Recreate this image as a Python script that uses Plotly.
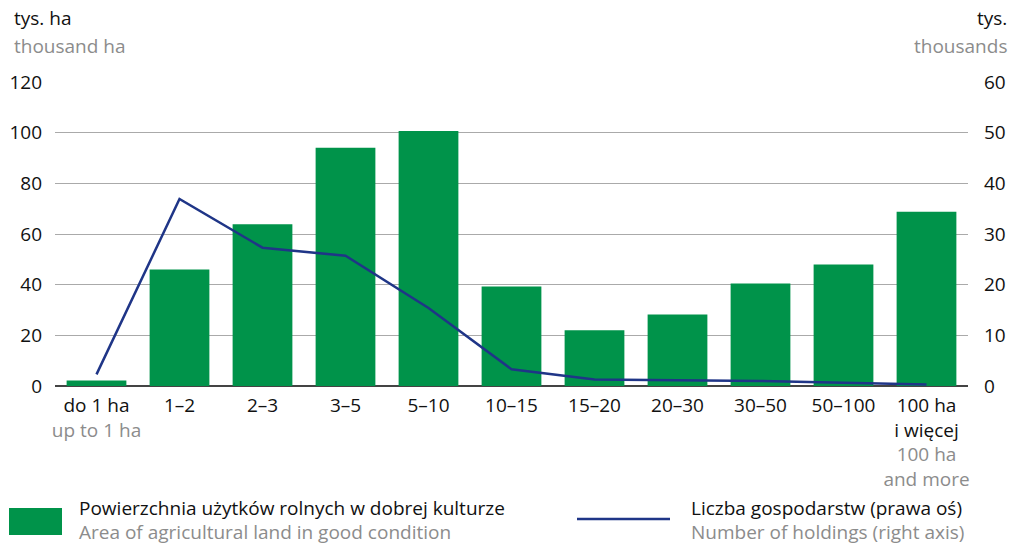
import plotly.graph_objects as go

# size groups of farms
categories = ['do 1 ha', '1–2', '2–3', '3–5', '5–10', '10–15', '15–20', '20–30', '30–50', '50–100', '100 ha i więcej']
labels_pl = ['do 1 ha', '1–2', '2–3', '3–5', '5–10', '10–15', '15–20', '20–30', '30–50', '50–100', '100 ha<br>i więcej']
labels_en = ['up to 1 ha', '', '', '', '', '', '', '', '', '', '100 ha<br>and more']

# area of agricultural land in good condition, thousand ha (left axis)
area = [2.2, 46.0, 63.8, 94.0, 100.7, 39.3, 22.0, 28.2, 40.5, 48.0, 68.8]
# number of holdings, thousands (right axis)
holdings = [2.3, 36.9, 27.3, 25.7, 15.4, 3.3, 1.3, 1.2, 1.0, 0.65, 0.3]

left_ticks = [0, 20, 40, 60, 80, 100, 120]
right_ticks = [0, 10, 20, 30, 40, 50, 60]

green = '#00934a'
navy = '#1f3587'
grey_txt = '#8c8c8c'
font = 'Open Sans'
fs = 19

W, H = 1013, 546
pl_l, pl_r, pl_t, pl_b = 55, W - 45, 82, H - 160

ticktext = []
for pl, en in zip(labels_pl, labels_en):
    t = pl
    if en:
        t += '<br><span style="color:%s">%s</span>' % (grey_txt, en)
    ticktext.append(t)

fig = go.Figure()
fig.add_trace(go.Bar(x=categories, y=area, marker=dict(color=green, line=dict(width=0)),
                     name='Powierzchnia', showlegend=False))
fig.add_trace(go.Scatter(x=categories, y=holdings, yaxis='y2', mode='lines',
                         line=dict(color=navy, width=2.5), name='Liczba', showlegend=False))

fig.update_layout(
    width=W, height=H,
    margin=dict(l=pl_l, r=W - pl_r, t=pl_t, b=H - pl_b, autoexpand=False),
    paper_bgcolor='white', plot_bgcolor='white',
    font=dict(family=font, size=fs, color='#111111'),
    bargap=0.28,
    xaxis=dict(tickvals=categories, ticktext=ticktext, showgrid=False, showline=False,
               ticks='', ticklabelstandoff=6),
    yaxis=dict(range=[0, 120], tickvals=left_ticks, showgrid=True, gridcolor='#aaaaaa',
               gridwidth=1, zeroline=True, zerolinecolor='#444444', zerolinewidth=1.5,
               ticks='', ticklabelstandoff=12),
    yaxis2=dict(range=[0, 60], tickvals=right_ticks, overlaying='y', side='right',
                showgrid=False, zeroline=False, ticks='', ticklabelstandoff=15),
)


def px2paper(px, py):
    return (px - pl_l) / (pl_r - pl_l), (pl_b - py) / (pl_b - pl_t)


# axis unit titles and legend texts (pixel positions)
texts = [
    ('tys. ha', 12, 18, 'left', '#111111'),
    ('thousand ha', 12, 46, 'left', grey_txt),
    ('tys.', 1009, 18, 'right', '#111111'),
    ('thousands', 1009, 46, 'right', grey_txt),
    ('Powierzchnia użytków rolnych w dobrej kulturze', 77, 508, 'left', '#111111'),
    ('Area of agricultural land in good condition', 77, 532, 'left', grey_txt),
    ('Liczba gospodarstw (prawa oś)', 689, 508, 'left', '#111111'),
    ('Number of holdings (right axis)', 689, 532, 'left', grey_txt),
]
for text, px, py, anchor, color in texts:
    x, y = px2paper(px, py)
    fig.add_annotation(text=text, x=x, y=y, xref='paper', yref='paper',
                       xanchor=anchor, yanchor='middle', showarrow=False,
                       font=dict(size=fs, color=color))

# legend symbols
x0, y0 = px2paper(9, 535)
x1, y1 = px2paper(62, 508)
fig.add_shape(type='rect', xref='paper', yref='paper', x0=x0, y0=y0, x1=x1, y1=y1,
              fillcolor=green, line=dict(width=0))
x0, y0 = px2paper(577, 519)
x1, _ = px2paper(670, 519)
fig.add_shape(type='line', xref='paper', yref='paper', x0=x0, y0=y0, x1=x1, y1=y0,
              line=dict(color=navy, width=2.5))

fig.write_html('out.html', config={'displayModeBar': False},
               post_script="document.body.style.margin='0';")
